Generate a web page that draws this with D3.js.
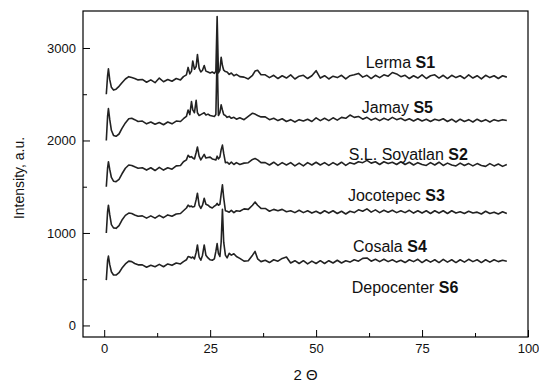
<!DOCTYPE html>
<html>
<head>
<meta charset="utf-8">
<script src="https://cdn.jsdelivr.net/npm/d3@7"></script>
<style>
  body { margin: 0; background: #fff; }
  text { font-family: "Liberation Sans", Arial, sans-serif; }
</style>
</head>
<body>
<div id="chart"></div>
<script>
// 2 theta grid shared by all patterns
const twoTheta = [
  0.5, 0.8, 1.0, 1.3, 1.7, 2.2, 2.8, 3.5, 4.2, 5.0, 5.8, 6.5, 7.2, 8,
  9, 10, 11, 12, 13, 14, 15, 16, 17, 18,
  18.7, 19.4, 19.8, 20.2, 20.6, 20.9, 21.3, 21.7, 22.0, 22.4, 22.8, 23.2, 23.6, 24.0, 24.5,
  25.0, 25.5, 26.0, 26.35, 26.65, 26.95, 27.3, 27.6, 27.9, 28.2, 28.6, 29.0, 29.5, 30.0, 30.6,
  31.2, 32, 33, 34, 35, 35.6, 36.2, 37,
  38, 39, 40, 41, 42, 43, 44, 45, 46, 47, 48, 49, 50, 51, 52, 53, 54, 55, 56, 57, 58, 59,
  60, 61, 62, 63, 64, 65, 66, 67, 68, 69, 70, 71, 72, 73, 74, 75, 76, 77, 78, 79,
  80, 81, 82, 83, 84, 85, 86, 87, 88, 89, 90, 91, 92, 93, 94, 95
];

const lerma = [
  2500, 2700, 2775, 2660, 2575, 2545, 2555, 2585, 2625, 2665, 2690, 2680, 2670, 2655,
  2660, 2630, 2655, 2625, 2675, 2635, 2660, 2640, 2670, 2655,
  2690, 2710, 2790, 2720, 2750, 2860, 2770, 2800, 2930, 2780, 2740, 2760, 2810, 2750, 2740,
  2730, 2740, 2725, 2750, 3340, 2730, 2760, 2900, 2810, 2760, 2745, 2740, 2715, 2730, 2700,
  2715, 2690, 2685, 2665, 2705, 2750, 2760, 2710,
  2710, 2680, 2705, 2670, 2700, 2675, 2710, 2665, 2695, 2705, 2670, 2700, 2755, 2675, 2700, 2665, 2695, 2680, 2705, 2665, 2700, 2710,
  2725, 2685, 2705, 2670, 2705, 2680, 2710, 2695, 2735, 2720, 2690, 2705, 2670, 2700, 2675, 2710, 2670, 2700, 2710, 2675,
  2705, 2670, 2705, 2680, 2700, 2670, 2710, 2675, 2700, 2665, 2705, 2680, 2700, 2670, 2700, 2685
];

const jamay = [
  2000, 2260, 2345, 2230, 2110, 2055, 2045, 2070, 2130, 2190, 2235, 2240, 2225, 2205,
  2210, 2180, 2200, 2175, 2195, 2170, 2200, 2180, 2210, 2205,
  2235, 2260, 2330, 2280, 2420, 2330, 2300, 2435, 2300, 2270, 2280, 2290, 2300, 2275, 2285,
  2270, 2265, 2260, 2280, 2950, 2270, 2300, 2385, 2330, 2280, 2270, 2250, 2260, 2240, 2250,
  2230, 2245, 2225, 2260, 2295, 2285, 2270, 2255,
  2255, 2225, 2240, 2215, 2235, 2205, 2225, 2200, 2225, 2210, 2230, 2205, 2245, 2215, 2240, 2215, 2245, 2220, 2250, 2240, 2275, 2250,
  2260, 2230, 2250, 2220, 2240, 2215, 2240, 2220, 2250, 2225, 2240, 2215, 2235, 2210, 2235, 2210, 2230, 2205, 2230, 2215,
  2235, 2205, 2230, 2200, 2230, 2205, 2225, 2200, 2230, 2205, 2225, 2200, 2225, 2210, 2225, 2215
];

const soyatlan = [
  1500, 1700, 1770, 1690, 1600, 1560, 1555, 1580, 1640, 1700, 1735, 1730, 1715, 1700,
  1705, 1680, 1705, 1675, 1710, 1680, 1705, 1690, 1725, 1730,
  1770, 1790, 1840, 1820, 1825, 1810, 1800, 1870, 1930, 1830, 1790, 1820, 1850, 1810, 1815,
  1820, 1800, 1795, 1790, 1830, 1800, 1820, 1900, 1950, 1860, 1760, 1765, 1745, 1765, 1740,
  1760, 1740, 1755, 1760, 1795, 1805, 1790, 1760,
  1760, 1735, 1765, 1730, 1760, 1735, 1760, 1725, 1755, 1725, 1760, 1735, 1765, 1735, 1760, 1730, 1760, 1735, 1765, 1730, 1760, 1745,
  1770, 1760, 1785, 1755, 1770, 1740, 1770, 1750, 1765, 1740, 1770, 1740, 1765, 1735, 1760, 1740, 1730, 1760, 1735, 1765,
  1730, 1755, 1735, 1725, 1755, 1730, 1750, 1725, 1750, 1730, 1720, 1750, 1725, 1745, 1720, 1740
];

const jocotepec = [
  1000, 1230, 1300, 1200, 1090, 1055, 1050, 1080, 1140, 1190, 1215, 1210, 1195, 1180,
  1185, 1160, 1185, 1160, 1190, 1165, 1195, 1180, 1205, 1210,
  1240, 1270, 1300, 1285, 1290, 1280, 1285, 1360, 1430, 1300, 1265, 1300, 1375, 1310, 1300,
  1280, 1270, 1290, 1300, 1320, 1300, 1310, 1420, 1520, 1380, 1240, 1235, 1225, 1245, 1220,
  1240, 1235, 1260, 1255, 1300, 1335, 1300, 1265,
  1265, 1235, 1255, 1240, 1255, 1230, 1240, 1220, 1245, 1220, 1240, 1215, 1235, 1210, 1240, 1215, 1240, 1210, 1235, 1205, 1235, 1220,
  1250, 1235, 1260, 1225, 1250, 1220, 1245, 1225, 1245, 1220, 1240, 1220, 1245, 1215, 1240, 1215, 1240, 1210, 1240, 1215,
  1240, 1210, 1240, 1215, 1230, 1210, 1235, 1215, 1225, 1205, 1235, 1210, 1225, 1205, 1230, 1210
];

const cosala = [
  490, 700, 750, 660, 580, 545, 545, 570, 620, 665, 695, 690, 670, 655,
  655, 630, 650, 635, 660, 635, 665, 650, 675, 665,
  690, 710, 745, 740, 730, 740, 720, 790, 870, 740, 705, 760, 870, 760, 730,
  710, 705, 720, 800, 885, 780, 745, 900, 1255, 900, 760, 730, 780, 760, 775,
  745, 725, 695, 700, 760, 800, 720, 690,
  705, 680, 710, 695, 725, 740, 675, 700, 670, 700, 665, 695, 670, 700, 670, 700, 675, 705, 675, 700, 685, 710,
  695, 725, 730, 695, 715, 690, 715, 690, 710, 685, 705, 680, 710, 690, 715, 680, 710, 685, 710, 680,
  715, 685, 710, 680, 710, 685, 715, 690, 710, 680, 710, 685, 710, 690, 705, 695
];

const sampleNames = ["Lerma", "Jamay", "S.L. Soyatlan", "Jocotepec", "Cosala", "Depocenter"];
const sampleCodes = ["S1", "S5", "S2", "S3", "S4", "S6"];

const xMajorTicks = [0, 25, 50, 75, 100];
const xMinorTicks = [12.5, 37.5, 62.5, 87.5];
const yMajorTicks = [0, 1000, 2000, 3000];
const yMinorTicks = [500, 1500, 2500];

const width = 539, height = 384;
const plotLeft = 83, plotRight = 528, plotTop = 11, plotBottom = 337;

const svg = d3.select("#chart").append("svg")
  .attr("width", width)
  .attr("height", height);

const x = d3.scaleLinear().domain([-5, 100]).range([plotLeft, plotRight]);
const y = d3.scaleLinear().domain([-125, 3400]).range([plotBottom, plotTop]);

// patterns
const series = [lerma, jamay, soyatlan, jocotepec, cosala];
const line = d3.line()
  .x(function (d) { return x(d[0]); })
  .y(function (d) { return y(d[1]); });

series.forEach(function (vals) {
  svg.append("path")
    .datum(twoTheta.map(function (t, i) { return [t, vals[i]]; }))
    .attr("fill", "none")
    .attr("stroke", "#222")
    .attr("stroke-width", 1.6)
    .attr("stroke-linejoin", "round")
    .attr("d", line);
});

// axes, ticks inside the frame
svg.append("g").attr("transform", "translate(" + plotLeft + ",0)")
  .call(d3.axisLeft(y).tickValues(yMajorTicks).tickFormat(d3.format("d"))
    .tickSizeInner(-7).tickSizeOuter(0).tickPadding(7));
svg.append("g").attr("transform", "translate(" + plotLeft + ",0)")
  .call(d3.axisLeft(y).tickValues(yMinorTicks).tickSizeInner(-4).tickSizeOuter(0).tickFormat(""));
svg.append("g").attr("transform", "translate(0," + plotBottom + ")")
  .call(d3.axisBottom(x).tickValues(xMajorTicks).tickFormat(d3.format("d"))
    .tickSizeInner(-7).tickSizeOuter(0).tickPadding(7));
svg.append("g").attr("transform", "translate(0," + plotBottom + ")")
  .call(d3.axisBottom(x).tickValues(xMinorTicks).tickSizeInner(-4).tickSizeOuter(0).tickFormat(""));

svg.selectAll(".domain").remove();
svg.selectAll(".tick line").attr("stroke", "#000").attr("stroke-width", 1);
svg.selectAll(".tick text")
  .attr("font-family", "Liberation Sans, Arial, sans-serif")
  .attr("font-size", 13)
  .attr("fill", "#111");

svg.append("rect")
  .attr("x", plotLeft).attr("y", plotTop)
  .attr("width", plotRight - plotLeft).attr("height", plotBottom - plotTop)
  .attr("fill", "none").attr("stroke", "#000").attr("stroke-width", 1.2);

// sample labels
const labelAt = [[61.7, 2786], [60.8, 2296], [57.7, 1788], [57.5, 1345], [58.7, 793], [58.4, 350]];
sampleNames.forEach(function (name, i) {
  const t = svg.append("text")
    .attr("x", x(labelAt[i][0]))
    .attr("y", y(labelAt[i][1]))
    .attr("font-size", 16)
    .attr("fill", "#111");
  t.append("tspan").text(name + " ");
  t.append("tspan").attr("font-weight", "bold").text(sampleCodes[i]);
});

svg.append("text")
  .attr("x", (plotLeft + plotRight) / 2)
  .attr("y", 380)
  .attr("text-anchor", "middle")
  .attr("font-size", 15)
  .attr("fill", "#111")
  .text("2 Θ");

svg.append("text")
  .attr("transform", "translate(24,178) rotate(-90)")
  .attr("text-anchor", "middle")
  .attr("font-size", 14)
  .attr("fill", "#111")
  .text("Intensity, a.u.");
</script>
</body>
</html>
